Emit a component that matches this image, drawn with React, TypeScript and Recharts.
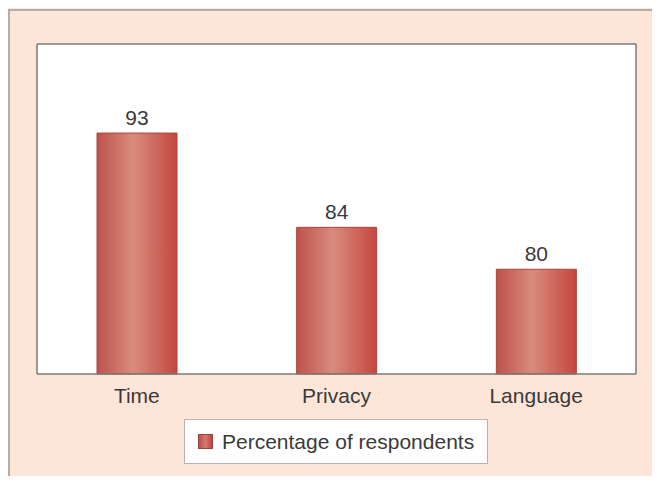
import React from 'react';
import { BarChart, Bar, XAxis, YAxis, CartesianGrid, LabelList, Legend } from 'recharts';

const categories = ['Time', 'Privacy', 'Language'];
const percentages = [93, 84, 80];
const seriesName = 'Percentage of respondents';

const data = categories.map((c, i) => ({ name: c, value: percentages[i] }));

const FONT = 'Liberation Sans, Arial, Helvetica, sans-serif';
const TEXT = '#3a3a3a';
const FRAME = '#7a7a7a';

const LegendContent = () => (
  <div
    style={{
      display: 'inline-flex',
      alignItems: 'center',
      background: '#ffffff',
      border: '1px solid #b8b4b0',
      boxSizing: 'border-box',
      width: 304,
      height: 45,
      paddingLeft: 13,
      fontFamily: FONT,
      fontSize: 21,
      color: TEXT,
      whiteSpace: 'nowrap',
    }}
  >
    <span
      style={{
        display: 'inline-block',
        width: 15,
        height: 15,
        marginRight: 9,
        background: 'linear-gradient(to right, #b8524c, #d4786e 50%, #c0443f)',
        border: '1px solid #9a4440',
        boxSizing: 'border-box',
      }}
    />
    <span>{seriesName}</span>
  </div>
);

export default function App() {
  return (
    <div
      style={{
        margin: -8,
        width: 660,
        height: 484,
        position: 'relative',
        background: '#fde6d8',
        overflow: 'hidden',
      }}
    >
      <div
        style={{
          position: 'absolute',
          left: 8,
          top: 9,
          width: 700,
          height: 600,
          borderLeft: '2px solid #b3aeab',
          borderTop: '2px solid #b3aeab',
        }}
      />
      <div style={{ position: 'absolute', left: 0, top: 0 }}>
        <BarChart
          width={660}
          height={484}
          data={data}
          margin={{ top: 43, right: 23, left: 36, bottom: 0 }}
        >
          <defs>
            <linearGradient id="barGrad" x1="0" y1="0" x2="1" y2="0">
              <stop offset="0%" stopColor="#bd524b" />
              <stop offset="45%" stopColor="#d98b7e" />
              <stop offset="100%" stopColor="#c4463f" />
            </linearGradient>
          </defs>
          <CartesianGrid fill="#ffffff" horizontal={false} vertical={false} />
          <XAxis
            dataKey="name"
            tickLine={false}
            tickSize={0}
            tickMargin={14}
            height={65}
            axisLine={{ stroke: FRAME, strokeWidth: 1.5 }}
            tick={{ fontFamily: FONT, fontSize: 21, fill: TEXT }}
          />
          <XAxis
            xAxisId="top"
            orientation="top"
            dataKey="name"
            tick={false}
            tickLine={false}
            height={1}
            axisLine={{ stroke: FRAME, strokeWidth: 1.5 }}
          />
          <YAxis
            domain={[70, 101.5]}
            tick={false}
            tickLine={false}
            width={1}
            axisLine={{ stroke: FRAME, strokeWidth: 1.5 }}
          />
          <YAxis
            yAxisId="right"
            orientation="right"
            domain={[70, 101.5]}
            tick={false}
            tickLine={false}
            width={1}
            axisLine={{ stroke: FRAME, strokeWidth: 1.5 }}
          />
          <Legend
            verticalAlign="bottom"
            content={<LegendContent />}
            wrapperStyle={{ left: 184, top: 419, width: 304, height: 45, bottom: 'auto' }}
          />
          <Bar
            dataKey="value"
            name={seriesName}
            fill="url(#barGrad)"
            stroke="#a8443e"
            strokeWidth={1}
            barSize={80}
            isAnimationActive={false}
          >
            <LabelList
              dataKey="value"
              position="top"
              offset={8}
              style={{ fontFamily: FONT, fontSize: 21, fill: TEXT }}
            />
          </Bar>
        </BarChart>
      </div>
    </div>
  );
}
